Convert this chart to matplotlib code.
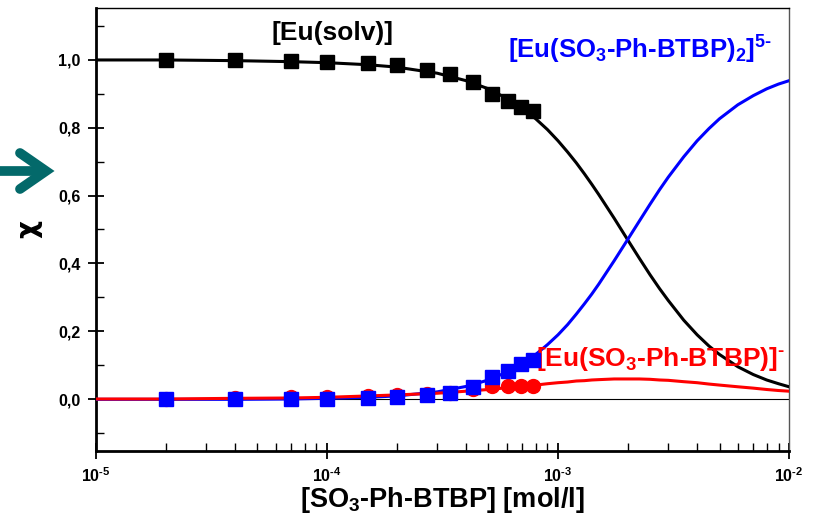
import matplotlib
matplotlib.use("Agg")
import matplotlib.pyplot as plt
from matplotlib.lines import Line2D
from matplotlib.ticker import FixedLocator, LogLocator, NullFormatter

plt.rcParams['font.family'] = ['Liberation Sans', 'DejaVu Sans']
plt.rcParams['mathtext.fontset'] = 'custom'
plt.rcParams['mathtext.bf'] = 'Liberation Sans:bold'
plt.rcParams['mathtext.rm'] = 'Liberation Sans:bold'
plt.rcParams['mathtext.default'] = 'bf'

# messpunkte
conc_pts = [2e-5, 4e-5, 7e-5, 1e-4, 1.5e-4, 2e-4, 2.7e-4, 3.4e-4, 4.3e-4, 5.2e-4, 6.1e-4, 6.9e-4, 7.8e-4]
eu_solv_pts = [1.0, 0.998, 0.996, 0.993, 0.989, 0.983, 0.969, 0.957, 0.935, 0.899, 0.878, 0.861, 0.849]
eu_l2_pts = [0.0, 0.0, 0.002, 0.002, 0.004, 0.008, 0.014, 0.02, 0.037, 0.066, 0.084, 0.104, 0.116]
eu_l1_pts = [0.002, 0.003, 0.006, 0.008, 0.011, 0.013, 0.017, 0.02, 0.03, 0.038, 0.039, 0.039, 0.038]

# kurven
conc_fit = [1e-5, 2e-5, 4e-5, 7e-5, 1e-4, 1.5e-4, 2e-4, 3e-4, 4e-4, 5e-4,
            6e-4, 7e-4, 8e-4, 9e-4, 1e-3, 1.1e-3, 1.2e-3, 1.3e-3, 1.4e-3, 1.5e-3,
            1.75e-3, 2e-3, 2.25e-3, 2.5e-3, 2.75e-3, 3e-3, 3.5e-3, 4e-3, 4.5e-3, 5e-3,
            6e-3, 7e-3, 8e-3, 9e-3, 1e-2]
eu_solv_fit = [0.999, 0.999, 0.997, 0.994, 0.991, 0.985, 0.978, 0.960, 0.938, 0.914,
               0.886, 0.857, 0.826, 0.794, 0.761, 0.728, 0.696, 0.664, 0.633, 0.603,
               0.533, 0.470, 0.415, 0.367, 0.326, 0.291, 0.233, 0.190, 0.157, 0.132,
               0.096, 0.073, 0.057, 0.046, 0.037]
eu_l1_fit = [0.001, 0.001, 0.003, 0.004, 0.006, 0.010, 0.013, 0.018, 0.024, 0.029,
             0.034, 0.038, 0.042, 0.046, 0.049, 0.051, 0.054, 0.055, 0.057, 0.058,
             0.060, 0.060, 0.060, 0.059, 0.057, 0.056, 0.052, 0.049, 0.045, 0.042,
             0.037, 0.033, 0.029, 0.026, 0.024]
eu_l2_fit = [0.0, 0.0, 0.0, 0.001, 0.003, 0.006, 0.010, 0.022, 0.038, 0.057,
             0.080, 0.105, 0.132, 0.161, 0.190, 0.220, 0.251, 0.281, 0.310, 0.339,
             0.408, 0.470, 0.525, 0.574, 0.617, 0.654, 0.714, 0.761, 0.797, 0.826,
             0.867, 0.894, 0.914, 0.928, 0.938]

fig = plt.figure(figsize=(8.16, 5.15), dpi=100)
ax = fig.add_axes([0.1176, 0.1243, 0.8494, 0.8602])

ax.axhline(0, color='black', lw=0.8, zorder=1)

kw = dict(lw=2.2, zorder=3, solid_joinstyle='round')
ax.plot(conc_fit, eu_solv_fit, color='black', **kw)
ax.plot(conc_fit, eu_l2_fit, color='#0000ff', **kw)
ax.plot(conc_fit, eu_l1_fit, color='#ff0000', **kw)

ax.plot(conc_pts, eu_l1_pts, 'o', color='#ff0000', ms=10, zorder=4)
ax.plot(conc_pts, eu_l2_pts, 's', color='#0000ff', ms=9.5, zorder=5)
ax.plot(conc_pts, eu_solv_pts, 's', color='black', ms=9.5, zorder=5)

ax.set_xscale('log')
ax.set_xlim(1e-5, 1e-2)
ax.set_ylim(-0.152, 1.152)

ax.xaxis.set_major_locator(FixedLocator([1e-5, 1e-4, 1e-3, 1e-2]))
ax.set_xticklabels(['10$^{\\text{-}5}$', '10$^{\\text{-}4}$', '10$^{\\text{-}3}$', '10$^{\\text{-}2}$'])
ax.xaxis.set_minor_locator(LogLocator(base=10, subs=range(2, 10), numticks=20))
ax.xaxis.set_minor_formatter(NullFormatter())

yt = [0.0, 0.2, 0.4, 0.6, 0.8, 1.0]
ax.set_yticks(yt)
ax.set_yticklabels([f'{v:.1f}'.replace('.', ',') for v in yt])
ax.set_yticks([-0.1, 0.1, 0.3, 0.5, 0.7, 0.9, 1.1], minor=True)

for lab in ax.get_xticklabels() + ax.get_yticklabels():
    lab.set_fontweight('bold')
    lab.set_fontsize(11.5)
    lab.set_family(['Liberation Sans Narrow', 'Liberation Sans'])

ax.tick_params(which='major', direction='inout', length=12, width=1.3, pad=5)
ax.tick_params(which='minor', direction='in', length=6, width=1.0)

for s in ['left', 'bottom']:
    ax.spines[s].set_linewidth(2)
for s in ['top', 'right']:
    ax.spines[s].set_linewidth(1)
ax.spines['right'].set_color('#555555')

ax.set_xlabel('[SO$_3$-Ph-BTBP] [mol/l]', fontsize=19.5, fontweight='bold')
ax.xaxis.set_label_coords(0.5, -0.077)
ax.set_ylabel('χ', fontsize=20, fontweight='bold', family=['DejaVu Sans'])
ax.yaxis.set_label_coords(-0.078, 0.5)

ax.text(1.06e-4, 1.078, '[Eu(solv)]', fontsize=19, fontweight='bold', ha='center', va='center')
ax.text(6.1e-4, 1.03, '[Eu(SO$_3$-Ph-BTBP)$_2$]$^{5\\text{-}}$', fontsize=18.5, fontweight='bold',
        color='#0000ff', ha='left', va='center')
ax.text(8.0e-4, 0.12, '[Eu(SO$_3$-Ph-BTBP)]$^{\\text{-}}$', fontsize=19, fontweight='bold',
        color='#ff0000', ha='left', va='center')

# pfeil links
teal = '#03696a'
H = 515.0
fig.add_artist(Line2D([0 / 816, 44 / 816], [1 - 171 / H, 1 - 171 / H], color=teal, lw=7,
                      solid_capstyle='butt', transform=fig.transFigure))
fig.add_artist(Line2D([20 / 816, 46 / 816, 20 / 816], [1 - 153 / H, 1 - 171 / H, 1 - 189 / H],
                      color=teal, lw=7, solid_capstyle='round', solid_joinstyle='miter',
                      transform=fig.transFigure))

plt.savefig('out.png', dpi=100)
